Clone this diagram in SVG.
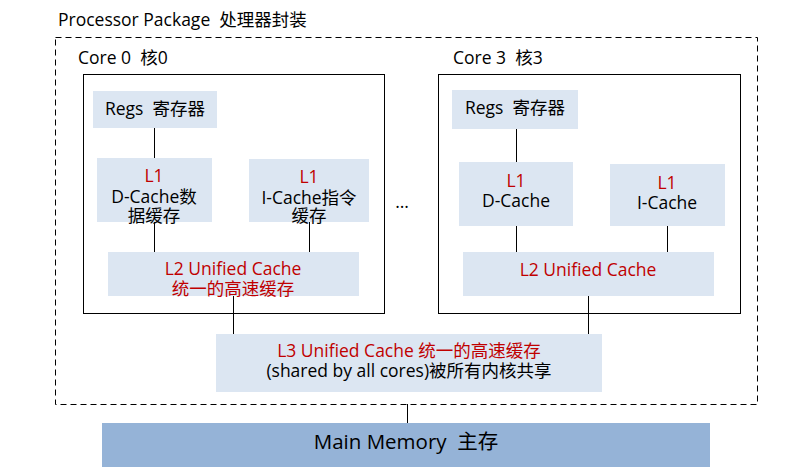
<svg xmlns="http://www.w3.org/2000/svg" width="798" height="472" viewBox="0 0 798 472">
<style>
text{font-family:"Open Sans","Noto Sans CJK SC",sans-serif;font-size:17.5px;fill:#000;white-space:pre}
.c{text-anchor:middle}
.r{fill:#C00000}
.box{fill:#DCE6F2}
.core{fill:#fff;stroke:#000;stroke-width:1}
.ln{stroke:#000;stroke-width:1;fill:none}
</style>
<rect width="798" height="472" fill="#fff"/>
<g id="package">
<rect x="55.5" y="37.5" width="702" height="367" fill="none" stroke="#000" stroke-dasharray="6,4"/>
<text x="58" y="26" xml:space="preserve">Processor Package  处理器封装</text>
</g>
<g id="core0">
<text x="78" y="64" xml:space="preserve">Core 0  核0</text>
<rect class="core" x="83.5" y="74.5" width="301" height="239"/>
</g>
<g id="core3">
<text x="453" y="64" xml:space="preserve">Core 3  核3</text>
<rect class="core" x="438.5" y="74.5" width="302" height="239"/>
</g>
<g id="connectors">
<path class="ln" d="M154.5 128V158M154.5 222V252M309.5 222V252M233.5 296V334M516.5 129V162M516.5 226V252M667.5 226V252M588.5 296V334M407.5 404V423"/>
</g>
<g id="regs0">
<rect class="box" x="93" y="91" width="124" height="37"/>
<text class="c" x="155" y="115" xml:space="preserve">Regs  寄存器</text>
</g>
<g id="dcache0">
<rect class="box" x="97" y="158" width="115" height="64"/>
<text class="c r" x="154" y="182">L1</text>
<text class="c" x="154" y="203">D-Cache数</text>
<text class="c" x="154" y="222">据缓存</text>
</g>
<g id="icache0">
<rect class="box" x="249" y="159" width="120" height="63"/>
<text class="c r" x="309" y="183">L1</text>
<text class="c" x="309" y="204">I-Cache指令</text>
<text class="c" x="309" y="222">缓存</text>
</g>
<g id="l2core0">
<rect class="box" x="108" y="252" width="251" height="44"/>
<text class="c r" x="233" y="275">L2 Unified Cache</text>
<text class="c r" x="233" y="295">统一的高速缓存</text>
</g>
<g id="ellipsis">
<text class="c" x="402" y="208">…</text>
</g>
<g id="regs3">
<rect class="box" x="452" y="90" width="126" height="39"/>
<text class="c" x="515" y="114" xml:space="preserve">Regs  寄存器</text>
</g>
<g id="dcache3">
<rect class="box" x="459" y="162" width="114" height="64"/>
<text class="c r" x="516" y="187">L1</text>
<text class="c" x="516" y="207">D-Cache</text>
</g>
<g id="icache3">
<rect class="box" x="610" y="164" width="115" height="62"/>
<text class="c r" x="667" y="189">L1</text>
<text class="c" x="667" y="209">I-Cache</text>
</g>
<g id="l2core3">
<rect class="box" x="463" y="252" width="251" height="44"/>
<text class="c r" x="588" y="276">L2 Unified Cache</text>
</g>
<g id="l3">
<rect class="box" x="216" y="334" width="386" height="58"/>
<text class="c r" x="409" y="357">L3 Unified Cache 统一的高速缓存</text>
<text class="c" x="409" y="377">(shared by all cores)被所有内核共享</text>
</g>
<g id="mainmem">
<rect x="102" y="423" width="608" height="44" fill="#95B3D7"/>
<text class="c" x="406" y="449" style="font-size:20.5px" xml:space="preserve">Main Memory  主存</text>
</g>
</svg>
